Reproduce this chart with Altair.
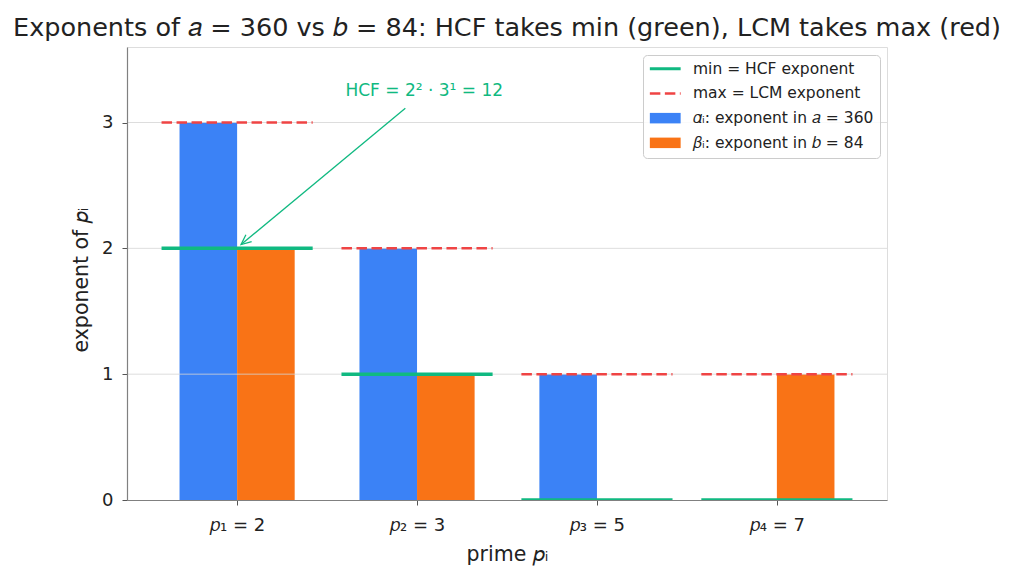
import math
import altair as alt
import pandas as pd

# Prime factorisation exponents of a = 360 = 2^3·3^2·5 and b = 84 = 2^2·3·7
primes = [2, 3, 5, 7]
prime_labels = ["𝑝₁ = 2", "𝑝₂ = 3", "𝑝₃ = 5", "𝑝₄ = 7"]
alpha = [3, 2, 1, 0]
beta = [2, 1, 0, 1]

series_names = [
    "min = HCF exponent",
    "max = LCM exponent",
    "𝛼ᵢ: exponent in 𝑎 = 360",
    "𝛽ᵢ: exponent in 𝑏 = 84",
]
series_colors = ["#10b981", "#ef4444", "#3b82f6", "#f97316"]
grid_values = [1, 2, 3]

annot_text = ["HCF  = 2² · 3¹ = 12"]
annot_xy = [0.022, 2.03]      # arrow tip (data units)
annot_from = [0.935, 3.113]   # arrow tail
annot_text_xy = [1.04, 3.25]

FONT = "DejaVu Sans"
W, H = 760, 453
X_DOM = [-0.612, 3.612]
Y_DOM = [0, 3.6]
BAR_W = 0.32
HALF = 0.42

n = len(primes)
idx = list(range(n))

bars = pd.DataFrame({
    "i": idx * 2,
    "exp": alpha + beta,
    "series": [series_names[2]] * n + [series_names[3]] * n,
    "side": [-1] * n + [0] * n,
})
lines = pd.DataFrame({
    "i": idx,
    "lo": [min(p, q) for p, q in zip(alpha, beta)],
    "hi": [max(p, q) for p, q in zip(alpha, beta)],
})

xs = alt.Scale(domain=X_DOM, nice=False, zero=False, padding=0)
ys = alt.Scale(domain=Y_DOM, nice=False, padding=0)
cs = alt.Scale(domain=series_names, range=series_colors)

label_expr = "[" + ",".join(f"'{t}'" for t in prime_labels) + "][datum.value]"

LINE_PATH = "M-2.2,0H2.2"
RECT_PATH = "M-2.2,-0.75H2.2V0.75H-2.2Z"

legend = alt.Legend(
    title=None,
    orient="none",
    legendX=516,
    legendY=8,
    direction="vertical",
    symbolSize=196,
    symbolOffset=8.5,
    labelOffset=20,
    rowPadding=7.7,
    padding=6,
    labelFont=FONT,
    labelFontSize=15.5,
    labelColor="#222222",
    labelLimit=400,
    strokeColor="#cccccc",
    fillColor="rgba(255,255,255,0.85)",
    cornerRadius=4,
    symbolOpacity=1,
    symbolType=alt.ExprRef(expr=f"datum.index < 2 ? '{LINE_PATH}' : '{RECT_PATH}'"),
    symbolStrokeColor=alt.ExprRef(
        expr=f"datum.index == 0 ? '{series_colors[0]}' : datum.index == 1 ? '{series_colors[1]}' : 'transparent'"
    ),
    symbolStrokeWidth=alt.ExprRef(expr="datum.index == 0 ? 3 : datum.index == 1 ? 2.5 : 0"),
    symbolDash=alt.ExprRef(expr="datum.index == 1 ? [10.5, 4.5] : []"),
)

x_axis = alt.Axis(
    values=idx,
    labelExpr=label_expr,
    title="prime 𝑝ᵢ",
    grid=False,
    tickSize=5,
    tickColor="#555555",
    domainColor="#808080",
    domainWidth=1.2,
    labelPadding=11,
    labelFont=FONT,
    labelFontSize=18,
    labelColor="#222222",
    titleFont=FONT,
    titleFontSize=20.5,
    titleFontWeight="normal",
    titleColor="#222222",
    titlePadding=10,
    zindex=1,
)
y_axis = alt.Axis(
    values=[0, 1, 2, 3],
    format="d",
    title="exponent of 𝑝ᵢ",
    grid=False,
    tickSize=5,
    tickColor="#555555",
    domainColor="#808080",
    domainWidth=1.2,
    labelPadding=9,
    labelFont=FONT,
    labelFontSize=18,
    labelColor="#222222",
    titleFont=FONT,
    titleFontSize=20.5,
    titleFontWeight="normal",
    titleColor="#222222",
    titlePadding=10,
    titleY=H / 2 + 6,
    zindex=1,
)

bar_layer = alt.Chart(bars).transform_calculate(
    x0=f"datum.i + datum.side * {BAR_W}",
    x1=f"datum.i + datum.side * {BAR_W} + {BAR_W}",
).mark_bar().encode(
    x=alt.X("x0:Q", scale=xs, axis=x_axis),
    x2="x1:Q",
    y=alt.Y("exp:Q", scale=ys, axis=y_axis),
    y2=alt.datum(0),
    color=alt.Color("series:N", scale=cs, legend=legend),
)

grid_layer = alt.Chart(pd.DataFrame({"g": grid_values})).mark_rule(
    color="#d4d4d4", strokeWidth=0.8
).encode(y=alt.Y("g:Q", scale=ys))

min_layer = alt.Chart(lines).transform_calculate(
    x0=f"datum.i - {HALF}", x1=f"datum.i + {HALF}", series=f"'{series_names[0]}'"
).mark_rule(strokeWidth=3.5, clip=True).encode(
    x=alt.X("x0:Q", scale=xs), x2="x1:Q",
    y=alt.Y("lo:Q", scale=ys),
    color=alt.Color("series:N", scale=cs, legend=None),
)

max_layer = alt.Chart(lines).transform_calculate(
    x0=f"datum.i - {HALF}", x1=f"datum.i + {HALF}", series=f"'{series_names[1]}'"
).mark_rule(strokeWidth=2.5, strokeDash=[10.5, 4.5], clip=True).encode(
    x=alt.X("x0:Q", scale=xs), x2="x1:Q",
    y=alt.Y("hi:Q", scale=ys),
    color=alt.Color("series:N", scale=cs, legend=None),
)

# annotation arrow: shaft plus an open arrowhead rotated along the shaft
arrow_df = pd.DataFrame({
    "x": [annot_from[0]], "y": [annot_from[1]],
    "x2": [annot_xy[0]], "y2": [annot_xy[1]],
})
px_x = W / (X_DOM[1] - X_DOM[0])
px_y = H / (Y_DOM[1] - Y_DOM[0])
dx = (annot_xy[0] - annot_from[0]) * px_x
dy = -(annot_xy[1] - annot_from[1]) * px_y
head_angle = math.degrees(math.atan2(dx, -dy)) % 360

shaft = alt.Chart(arrow_df).mark_rule(color="#10b981", strokeWidth=1.3).encode(
    x=alt.X("x:Q", scale=xs), y=alt.Y("y:Q", scale=ys), x2="x2:Q", y2="y2:Q"
)
head = alt.Chart(arrow_df).mark_point(
    shape="M-0.45,1L0,0L0.45,1", size=400, filled=False, color="#10b981",
    strokeWidth=1.3, opacity=1, angle=head_angle,
).encode(x=alt.X("x2:Q", scale=xs), y=alt.Y("y2:Q", scale=ys))

annot = alt.Chart(pd.DataFrame({
    "x": [annot_text_xy[0]], "y": [annot_text_xy[1]], "t": annot_text
})).mark_text(
    font=FONT, fontSize=17, color="#10b981", align="center", baseline="middle"
).encode(x=alt.X("x:Q", scale=xs), y=alt.Y("y:Q", scale=ys), text="t:N")

chart = alt.layer(
    bar_layer, grid_layer, min_layer, max_layer, shaft, head, annot
).properties(
    width=W,
    height=H,
    autosize=alt.AutoSizeParams(type="none"),
    padding={"left": 127, "top": 47, "right": 126, "bottom": 83},
    title=alt.TitleParams(
        "Exponents of 𝑎 = 360 vs 𝑏 = 84: HCF takes min (green), LCM takes max (red)",
        font=FONT, fontSize=25.5, fontWeight="normal", color="#222222",
        anchor="middle", baseline="alphabetic", frame="group", offset=12, dy=26,
    ),
).configure_view(
    stroke="#808080", strokeWidth=1.2
).configure(background="white")

chart.save("out.html", embed_options={"renderer": "svg", "actions": False})
